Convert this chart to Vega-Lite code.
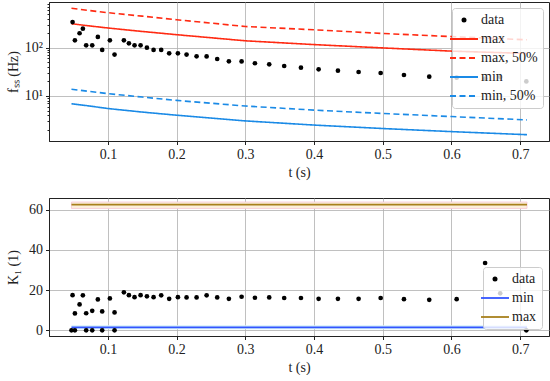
{
  "$schema": "https://vega.github.io/schema/vega-lite/v6.json",
  "padding": {"left": 5, "top": 1, "right": 0, "bottom": 0},
  "resolve": {"scale": {"color": "independent", "strokeDash": "independent"}, "legend": {"color": "independent"}},
  "datasets": {
    "fdata": [
      {"t": 0.0486, "f": 340, "series": "data"}, {"t": 0.052, "f": 142, "series": "data"},
      {"t": 0.0588, "f": 199, "series": "data"}, {"t": 0.0636, "f": 248, "series": "data"},
      {"t": 0.0684, "f": 112, "series": "data"}, {"t": 0.0772, "f": 112, "series": "data"},
      {"t": 0.0854, "f": 167, "series": "data"}, {"t": 0.0917, "f": 90, "series": "data"},
      {"t": 0.1029, "f": 142, "series": "data"}, {"t": 0.1097, "f": 72, "series": "data"},
      {"t": 0.1233, "f": 142, "series": "data"}, {"t": 0.1306, "f": 123, "series": "data"},
      {"t": 0.1388, "f": 112, "series": "data"}, {"t": 0.1476, "f": 112, "series": "data"},
      {"t": 0.1568, "f": 100, "series": "data"}, {"t": 0.1665, "f": 90, "series": "data"},
      {"t": 0.1776, "f": 90, "series": "data"}, {"t": 0.1892, "f": 76.6, "series": "data"},
      {"t": 0.2019, "f": 76.6, "series": "data"}, {"t": 0.2145, "f": 72, "series": "data"},
      {"t": 0.2291, "f": 66.4, "series": "data"}, {"t": 0.2437, "f": 66, "series": "data"},
      {"t": 0.2591, "f": 58.4, "series": "data"}, {"t": 0.2761, "f": 52.3, "series": "data"},
      {"t": 0.2946, "f": 52, "series": "data"}, {"t": 0.314, "f": 47.6, "series": "data"},
      {"t": 0.3348, "f": 45.3, "series": "data"}, {"t": 0.3566, "f": 41.8, "series": "data"},
      {"t": 0.381, "f": 38.6, "series": "data"}, {"t": 0.4067, "f": 35.7, "series": "data"},
      {"t": 0.4348, "f": 33.4, "series": "data"}, {"t": 0.4649, "f": 31.4, "series": "data"},
      {"t": 0.497, "f": 29.9, "series": "data"}, {"t": 0.5309, "f": 27.2, "series": "data"},
      {"t": 0.5677, "f": 25.1, "series": "data"}, {"t": 0.6076, "f": 24, "series": "data"},
      {"t": 0.649, "f": 23, "series": "data"}, {"t": 0.671, "f": 24.7, "series": "data"},
      {"t": 0.709, "f": 20, "series": "data"}
    ],
    "flines": [
      {"t": 0.047, "f": 314, "series": "max"}, {"t": 0.07, "f": 286, "series": "max"},
      {"t": 0.1, "f": 256, "series": "max"}, {"t": 0.15, "f": 217, "series": "max"},
      {"t": 0.2, "f": 186, "series": "max"}, {"t": 0.3, "f": 139, "series": "max"},
      {"t": 0.4, "f": 116, "series": "max"}, {"t": 0.5, "f": 99, "series": "max"},
      {"t": 0.6, "f": 85, "series": "max"}, {"t": 0.71, "f": 76, "series": "max"},
      {"t": 0.047, "f": 655, "series": "max, 50%"}, {"t": 0.07, "f": 595, "series": "max, 50%"},
      {"t": 0.1, "f": 531, "series": "max, 50%"}, {"t": 0.15, "f": 450, "series": "max, 50%"},
      {"t": 0.2, "f": 380, "series": "max, 50%"}, {"t": 0.3, "f": 275, "series": "max, 50%"},
      {"t": 0.4, "f": 235, "series": "max, 50%"}, {"t": 0.5, "f": 197, "series": "max, 50%"},
      {"t": 0.6, "f": 170, "series": "max, 50%"}, {"t": 0.71, "f": 146, "series": "max, 50%"},
      {"t": 0.047, "f": 6.9, "series": "min"}, {"t": 0.07, "f": 6.3, "series": "min"},
      {"t": 0.1, "f": 5.5, "series": "min"}, {"t": 0.15, "f": 4.65, "series": "min"},
      {"t": 0.2, "f": 4.0, "series": "min"}, {"t": 0.3, "f": 3.05, "series": "min"},
      {"t": 0.4, "f": 2.5, "series": "min"}, {"t": 0.5, "f": 2.12, "series": "min"},
      {"t": 0.6, "f": 1.83, "series": "min"}, {"t": 0.71, "f": 1.58, "series": "min"},
      {"t": 0.047, "f": 13.8, "series": "min, 50%"}, {"t": 0.07, "f": 12.6, "series": "min, 50%"},
      {"t": 0.1, "f": 11.2, "series": "min, 50%"}, {"t": 0.15, "f": 9.5, "series": "min, 50%"},
      {"t": 0.2, "f": 8.1, "series": "min, 50%"}, {"t": 0.3, "f": 6.2, "series": "min, 50%"},
      {"t": 0.4, "f": 5.1, "series": "min, 50%"}, {"t": 0.5, "f": 4.35, "series": "min, 50%"},
      {"t": 0.6, "f": 3.75, "series": "min, 50%"}, {"t": 0.71, "f": 3.2, "series": "min, 50%"}
    ],
    "kdata": [
      {"t": 0.0486, "k": 17.5, "series": "data"}, {"t": 0.047, "k": 0, "series": "data"},
      {"t": 0.052, "k": 8.4, "series": "data"}, {"t": 0.052, "k": 0, "series": "data"},
      {"t": 0.0588, "k": 12.9, "series": "data"}, {"t": 0.0636, "k": 17.4, "series": "data"},
      {"t": 0.0684, "k": 8.5, "series": "data"}, {"t": 0.0684, "k": 0, "series": "data"},
      {"t": 0.0772, "k": 9.7, "series": "data"}, {"t": 0.0772, "k": 0, "series": "data"},
      {"t": 0.0854, "k": 15.4, "series": "data"}, {"t": 0.0917, "k": 9.4, "series": "data"},
      {"t": 0.0917, "k": 0, "series": "data"}, {"t": 0.1029, "k": 15.9, "series": "data"},
      {"t": 0.1097, "k": 8.9, "series": "data"}, {"t": 0.1097, "k": 0, "series": "data"},
      {"t": 0.1233, "k": 18.9, "series": "data"}, {"t": 0.1306, "k": 17.5, "series": "data"},
      {"t": 0.1388, "k": 16.5, "series": "data"}, {"t": 0.1476, "k": 17.5, "series": "data"},
      {"t": 0.1568, "k": 16.9, "series": "data"}, {"t": 0.1665, "k": 16.5, "series": "data"},
      {"t": 0.1776, "k": 17.4, "series": "data"}, {"t": 0.1892, "k": 15.7, "series": "data"},
      {"t": 0.2019, "k": 16.5, "series": "data"}, {"t": 0.2145, "k": 16.4, "series": "data"},
      {"t": 0.2291, "k": 16.4, "series": "data"}, {"t": 0.2437, "k": 17.4, "series": "data"},
      {"t": 0.2591, "k": 16.4, "series": "data"}, {"t": 0.2761, "k": 15.7, "series": "data"},
      {"t": 0.2946, "k": 16.7, "series": "data"}, {"t": 0.314, "k": 16.2, "series": "data"},
      {"t": 0.3348, "k": 16.4, "series": "data"}, {"t": 0.3566, "k": 16.1, "series": "data"},
      {"t": 0.381, "k": 16.1, "series": "data"}, {"t": 0.4067, "k": 15.7, "series": "data"},
      {"t": 0.4348, "k": 15.7, "series": "data"}, {"t": 0.4649, "k": 15.7, "series": "data"},
      {"t": 0.497, "k": 16.1, "series": "data"}, {"t": 0.5309, "k": 15.5, "series": "data"},
      {"t": 0.5677, "k": 15.2, "series": "data"}, {"t": 0.6076, "k": 15.5, "series": "data"},
      {"t": 0.649, "k": 33.5, "series": "data"}, {"t": 0.671, "k": 18.4, "series": "data"},
      {"t": 0.709, "k": 0, "series": "data"}
    ],
    "klines": [
      {"t": 0.047, "k": 1.5, "series": "min"}, {"t": 0.71, "k": 1.5, "series": "min"},
      {"t": 0.047, "k": 62.5, "series": "max"}, {"t": 0.71, "k": 62.5, "series": "max"}
    ],
    "kbands": [
      {"t": 0.047, "t2": 0.71, "lo": 0.5, "hi": 2.6, "band": "min"},
      {"t": 0.047, "t2": 0.71, "lo": 60.6, "hi": 63.8, "band": "max"}
    ]
  },
  "vconcat": [
    {
      "width": 500,
      "height": 139,
      "layer": [
        {
          "data": {"name": "flines"},
          "mark": {"type": "line", "strokeWidth": 1.6, "clip": true},
          "encoding": {
            "x": {"field": "t", "type": "quantitative", "scale": {"domain": [0.0143, 0.742], "nice": false, "zero": false},
                  "axis": {"values": [0.1, 0.2, 0.3, 0.4, 0.5, 0.6, 0.7], "format": ".1f", "title": "t (s)"}},
            "y": {"field": "f", "type": "quantitative", "scale": {"type": "log", "domain": [1.17, 884], "nice": false},
                  "axis": {"values": [2, 3, 4, 5, 6, 7, 8, 9, 10, 20, 30, 40, 50, 60, 70, 80, 90, 100, 200, 300, 400, 500, 600, 700, 800],
                           "labelExpr": "datum.value == 10 ? '10¹' : datum.value == 100 ? '10²' : ''",
                           "labelOverlap": false,
                           "labelFontSize": {"condition": {"test": "datum.value == 10 || datum.value == 100", "value": 14}, "value": 0},
                           "tickSize": {"condition": {"test": "datum.value == 10 || datum.value == 100", "value": 3.5}, "value": 2},
                           "gridOpacity": {"condition": {"test": "datum.value == 10 || datum.value == 100", "value": 1}, "value": 0},
                           "title": "fₛₛ (Hz)", "titleX": -36, "titleBaseline": "middle"}},
            "color": {"field": "series", "type": "nominal",
                      "scale": {"domain": ["data", "max", "max, 50%", "min", "min, 50%"], "range": ["#000000", "#ff2a12", "#ff2a12", "#1a8ae6", "#1a8ae6"]},
                      "legend": {"title": null, "orient": "top-right", "offset": 6, "fillColor": "rgba(255,255,255,0.8)", "strokeColor": "#cccccc",
                                 "cornerRadius": 3, "padding": 5, "rowPadding": 5, "labelOffset": 10, "symbolSize": 784, "symbolType": "stroke",
                                 "encode": {"symbols": {"update": {
                                   "shape": {"signal": "datum.value === 'data' ? 'circle' : 'stroke'"},
                                   "size": {"signal": "datum.value === 'data' ? 25 : 784"},
                                   "strokeDash": {"signal": "indexof(datum.value, '50%') >= 0 ? [6, 3.5] : [1, 0]"},
                                   "fill": {"signal": "datum.value === 'data' ? '#000000' : 'transparent'"},
                                   "stroke": {"signal": "datum.value === 'data' ? '#000000' : indexof(datum.value, 'max') >= 0 ? '#ff2a12' : '#1a8ae6'"},
                                   "strokeWidth": {"signal": "datum.value === 'data' ? 0 : 1.8"},
                                   "opacity": {"value": 1}
                                 }}}}},
            "strokeDash": {"field": "series", "type": "nominal",
                           "scale": {"domain": ["data", "max", "max, 50%", "min", "min, 50%"], "range": [[1, 0], [1, 0], [6, 3.5], [1, 0], [6, 3.5]]},
                           "legend": null}
          }
        },
        {
          "data": {"name": "fdata"},
          "mark": {"type": "circle", "size": 22, "opacity": 1},
          "encoding": {
            "x": {"field": "t", "type": "quantitative"},
            "y": {"field": "f", "type": "quantitative"},
            "color": {"field": "series", "type": "nominal"}
          }
        }
      ]
    },
    {
      "width": 500,
      "height": 138,
      "layer": [
        {
          "data": {"name": "kbands"},
          "transform": [{"filter": "datum.band == 'min'"}],
          "mark": {"type": "rect", "color": "#d4f1fa"},
          "encoding": {
            "x": {"field": "t", "type": "quantitative"},
            "x2": {"field": "t2"},
            "y": {"field": "lo", "type": "quantitative"},
            "y2": {"field": "hi"}
          }
        },
        {
          "data": {"name": "kbands"},
          "transform": [{"filter": "datum.band == 'max'"}],
          "mark": {"type": "rect", "color": "#fcefdc", "stroke": "#f7c6d6", "strokeWidth": 0.8},
          "encoding": {
            "x": {"field": "t", "type": "quantitative"},
            "x2": {"field": "t2"},
            "y": {"field": "lo", "type": "quantitative"},
            "y2": {"field": "hi"}
          }
        },
        {
          "data": {"name": "klines"},
          "mark": {"type": "line", "strokeWidth": 1.6},
          "encoding": {
            "x": {"field": "t", "type": "quantitative", "scale": {"domain": [0.0143, 0.742], "nice": false, "zero": false},
                  "axis": {"values": [0.1, 0.2, 0.3, 0.4, 0.5, 0.6, 0.7], "format": ".1f", "title": "t (s)"}},
            "y": {"field": "k", "type": "quantitative", "scale": {"domain": [-2.8, 65.8], "nice": false, "zero": false},
                  "axis": {"values": [0, 20, 40, 60], "title": "K₁ (1)", "titleX": -36, "titleBaseline": "middle"}},
            "color": {"field": "series", "type": "nominal",
                      "scale": {"domain": ["data", "min", "max"], "range": ["#000000", "#3355ff", "#a8801c"]},
                      "legend": {"title": null, "orient": "bottom-right", "offset": 7, "fillColor": "rgba(255,255,255,0.8)", "strokeColor": "#cccccc",
                                 "cornerRadius": 3, "padding": 5, "rowPadding": 5, "labelOffset": 10, "symbolSize": 784, "symbolType": "stroke",
                                 "encode": {"symbols": {"update": {
                                   "shape": {"signal": "datum.value === 'data' ? 'circle' : 'stroke'"},
                                   "size": {"signal": "datum.value === 'data' ? 25 : 784"},
                                   "fill": {"signal": "datum.value === 'data' ? '#000000' : 'transparent'"},
                                   "stroke": {"signal": "datum.value === 'data' ? '#000000' : datum.value === 'min' ? '#3355ff' : '#a8801c'"},
                                   "strokeWidth": {"signal": "datum.value === 'data' ? 0 : 1.8"},
                                   "opacity": {"value": 1}
                                 }}}}}
          }
        },
        {
          "data": {"name": "kdata"},
          "mark": {"type": "circle", "size": 22, "opacity": 1},
          "encoding": {
            "x": {"field": "t", "type": "quantitative"},
            "y": {"field": "k", "type": "quantitative"},
            "color": {"field": "series", "type": "nominal"}
          }
        }
      ]
    }
  ],
  "spacing": 17,
  "config": {
    "font": "Liberation Serif",
    "view": {"stroke": "#222222", "strokeWidth": 1},
    "axis": {"labelFont": "Liberation Serif", "titleFont": "Liberation Serif", "labelFontSize": 14, "titleFontSize": 14,
             "titleFontWeight": "normal", "labelColor": "#222222", "titleColor": "#222222", "tickColor": "#222222",
             "domainColor": "#222222", "gridColor": "#b0b0b0", "gridWidth": 0.8, "tickSize": 3.5, "labelPadding": 3, "titlePadding": 4},
    "legend": {"labelFont": "Liberation Serif", "labelFontSize": 14, "labelColor": "#222222"}
  }
}
